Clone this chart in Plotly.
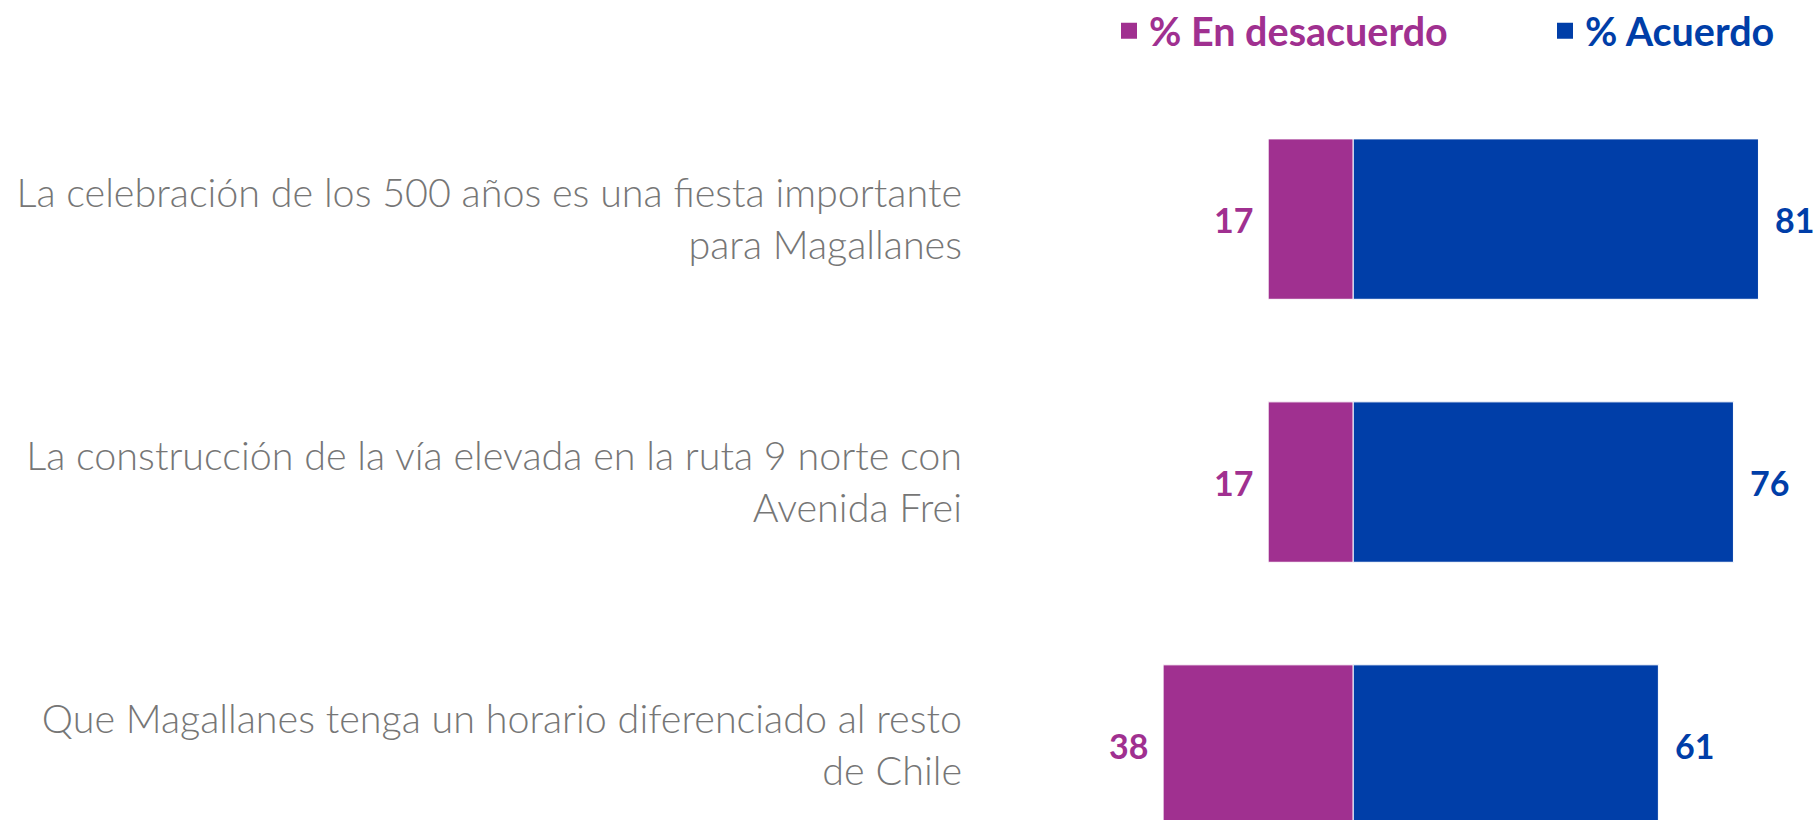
import plotly.graph_objects as go

categorias = [
    "La celebración de los 500 años es una fiesta importante<br>para Magallanes",
    "La construcción de la vía elevada en la ruta 9 norte con<br>Avenida Frei",
    "Que Magallanes tenga un horario diferenciado al resto<br>de Chile",
]
desacuerdo = [17, 17, 38]
acuerdo = [81, 76, 61]
series = ["% En desacuerdo", "% Acuerdo"]

MORADO = "#A03090"
AZUL = "#003EA8"
GRIS = "#767676"

fig = go.Figure()
fig.add_trace(go.Bar(
    y=categorias, x=[-v for v in desacuerdo], orientation="h", showlegend=False,
    marker=dict(color=MORADO, line=dict(color="white", width=1)),
    width=0.61, hoverinfo="skip"))
fig.add_trace(go.Bar(
    y=categorias, x=acuerdo, orientation="h", showlegend=False,
    marker=dict(color=AZUL, line=dict(color="white", width=1)),
    width=0.61, hoverinfo="skip"))

# entradas de leyenda con cuadrado grande (una leyenda por serie)
for nombre, color, ley in zip(series, [MORADO, AZUL], ["legend", "legend2"]):
    fig.add_trace(go.Scatter(x=[None], y=[None], mode="markers", name=nombre,
                             marker=dict(symbol="square", size=20, color=color),
                             legend=ley, hoverinfo="skip"))

# etiquetas de valores
for cat, v in zip(categorias, desacuerdo):
    fig.add_annotation(x=-v, y=cat, text=f"<b>{v}</b>", showarrow=False,
                       xanchor="right", xshift=-13, font=dict(color=MORADO, size=34, family="Lato"))
for cat, v in zip(categorias, acuerdo):
    fig.add_annotation(x=v, y=cat, text=f"<b>{v}</b>", showarrow=False,
                       xanchor="left", xshift=15, font=dict(color=AZUL, size=34, family="Lato"))

ley_base = dict(orientation="h", xref="container", yref="container", xanchor="left",
                y=0.962, yanchor="middle", itemclick=False, bgcolor="rgba(0,0,0,0)")
fig.update_layout(
    width=1816, height=820,
    barmode="relative",
    plot_bgcolor="white", paper_bgcolor="white",
    margin=dict(l=1000, r=0, t=60, b=0, autoexpand=False),
    showlegend=True,
    legend=dict(ley_base, x=1109 / 1816,
                font=dict(size=39.5, family="Lato", weight="bold", color=MORADO)),
    legend2=dict(ley_base, x=1545 / 1816,
                 font=dict(size=39.5, family="Lato", weight="bold", color=AZUL)),
    hovermode=False,
)
fig.update_xaxes(range=[-70.6, 92.5], visible=False, fixedrange=True)
fig.update_yaxes(range=[2.285, -0.605], automargin=False, showgrid=False, showline=False,
                 ticks="", ticklabelstandoff=37, fixedrange=True,
                 tickfont=dict(size=39.5, family="Lato", color=GRIS, weight=300))

# quitar el margen del body para que el gráfico ocupe toda la ventana
fig.write_html("out.html", config={"displayModeBar": False},
               post_script="document.body.style.margin='0';")
